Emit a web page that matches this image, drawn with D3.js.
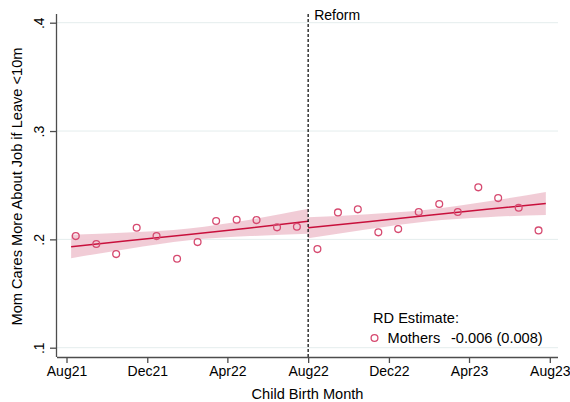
<!DOCTYPE html>
<html>
<head>
<meta charset="utf-8">
<script src="https://cdn.jsdelivr.net/npm/d3@7/dist/d3.min.js"></script>
<style>
  html, body { margin: 0; padding: 0; background: #fff; }
  svg { display: block; font-family: "Liberation Sans", Arial, Helvetica, sans-serif; }
</style>
</head>
<body>
<svg id="chart" width="570" height="402"></svg>
<script>
// Monthly means: share of mothers who care more about their job if leave < 10 months
// Points sit at mid-month (15th), Aug 2021 .. Jul 2023
const monthStarts = [
  "2021-08","2021-09","2021-10","2021-11","2021-12","2022-01","2022-02","2022-03",
  "2022-04","2022-05","2022-06","2022-07","2022-08","2022-09","2022-10","2022-11",
  "2022-12","2023-01","2023-02","2023-03","2023-04","2023-05","2023-06","2023-07"
];
const monthMeans = [
  0.2030, 0.1957, 0.1864, 0.2107, 0.2030, 0.1821, 0.1975, 0.2169,
  0.2181, 0.2178, 0.2111, 0.2116, 0.1910, 0.2249, 0.2277, 0.2065,
  0.2095, 0.2252, 0.2326, 0.2252, 0.2480, 0.2381, 0.2292, 0.2083
];

// Linear fit with 95% CI, before the reform
const preFitDates = ["2021-08-08","2021-11-01","2022-02-02","2022-05-05","2022-08-01"];
const preFitValue = [0.1932, 0.1988, 0.2046, 0.2106, 0.2167];
const preFitLow   = [0.1826, 0.1912, 0.1991, 0.2030, 0.2052];
const preFitHigh  = [0.2042, 0.2064, 0.2101, 0.2182, 0.2282];

// Linear fit with 95% CI, after the reform
const postFitDates = ["2022-08-01","2022-10-30","2023-01-27","2023-04-28","2023-07-26"];
const postFitValue = [0.2107, 0.2163, 0.2220, 0.2277, 0.2332];
const postFitLow   = [0.2010, 0.2094, 0.2166, 0.2205, 0.2226];
const postFitHigh  = [0.2204, 0.2232, 0.2274, 0.2349, 0.2438];

const reformDate = "2022-08-01";
const reformLabel = "Reform";

const xTickDates = ["2021-08-01","2021-12-01","2022-04-01","2022-08-01","2022-12-01","2023-04-01","2023-08-01"];
const xTickLabels = ["Aug21","Dec21","Apr22","Aug22","Dec22","Apr23","Aug23"];
const yTicks = [0.1, 0.2, 0.3, 0.4];
const yTickLabels = [".1", ".2", ".3", ".4"];

const xTitle = "Child Birth Month";
const yTitle = "Mom Cares More About Job if Leave <10m";

const legendTitle = "RD Estimate:";
const legendSeries = "Mothers";
const rdEstimate = -0.006;
const rdStdErr = 0.008;

// ---- drawing ----
const parse = d3.utcParse("%Y-%m-%d");
const svg = d3.select("#chart");

const plotLeft = 57, plotRight = 558, plotTop = 14, plotBottom = 357;

const x = d3.scaleUtc()
  .domain([parse("2021-08-01"), parse("2023-08-01")])
  .range([66.5, 549.8]);
const y = d3.scaleLinear()
  .domain([0.1, 0.4])
  .range([347.7, 22.7]);

const markerColor = "#d64a70";
const lineColor = "#c8103c";
const bandColor = "#f0c6d1";
const axisColor = "#4d4d4d";
const gridColor = "#e4eded";
const titleSize = 14.6;

// grid lines
svg.append("g").selectAll("line").data(yTicks).join("line")
  .attr("x1", plotLeft).attr("x2", plotRight)
  .attr("y1", d => y(d)).attr("y2", d => y(d))
  .attr("stroke", gridColor).attr("stroke-width", 1);

// confidence bands and fit lines
function drawFit(dates, mid, lo, hi) {
  const rows = dates.map((d, i) => ({ t: parse(d), m: mid[i], lo: lo[i], hi: hi[i] }));
  svg.append("path").datum(rows)
    .attr("d", d3.area().curve(d3.curveMonotoneX)
      .x(d => x(d.t)).y0(d => y(d.lo)).y1(d => y(d.hi)))
    .attr("fill", bandColor).attr("fill-opacity", 0.9);
  svg.append("path").datum(rows)
    .attr("d", d3.line().x(d => x(d.t)).y(d => y(d.m)))
    .attr("fill", "none").attr("stroke", lineColor).attr("stroke-width", 1.5);
}
drawFit(preFitDates, preFitValue, preFitLow, preFitHigh);
drawFit(postFitDates, postFitValue, postFitLow, postFitHigh);

// monthly means as hollow circles
const points = monthStarts.map((m, i) => ({ t: parse(m + "-15"), v: monthMeans[i] }));
svg.append("g").selectAll("circle").data(points).join("circle")
  .attr("cx", d => x(d.t)).attr("cy", d => y(d.v)).attr("r", 3.4)
  .attr("fill", "none").attr("stroke", markerColor).attr("stroke-width", 1.3);

// reform cutoff
const rx = x(parse(reformDate));
svg.append("line")
  .attr("x1", rx).attr("x2", rx).attr("y1", plotTop).attr("y2", plotBottom)
  .attr("stroke", "#000").attr("stroke-width", 1.2).attr("stroke-dasharray", "3,2");
svg.append("text").attr("x", rx + 6).attr("y", 20)
  .attr("font-size", 14).attr("fill", "#000").text(reformLabel);

// x axis
const xAxis = d3.axisBottom(x)
  .tickValues(xTickDates.map(parse))
  .tickFormat((d, i) => xTickLabels[i])
  .tickSize(6).tickSizeOuter(0).tickPadding(3);
const gx = svg.append("g").attr("transform", `translate(0,${plotBottom})`).call(xAxis);
gx.select(".domain").attr("d", `M${plotLeft},0.5H${plotRight}`)
  .attr("stroke", axisColor).attr("stroke-width", 1.3);
gx.selectAll(".tick line").attr("stroke", axisColor).attr("stroke-width", 1.3);
gx.selectAll(".tick text").attr("font-size", 14).attr("fill", "#000")
  .attr("font-family", "\"Liberation Sans\", Arial, sans-serif");

// y axis
const yAxis = d3.axisLeft(y)
  .tickValues(yTicks)
  .tickFormat((d, i) => yTickLabels[i])
  .tickSize(7).tickSizeOuter(0);
const gy = svg.append("g").attr("transform", `translate(${plotLeft},0)`).call(yAxis);
gy.select(".domain").attr("d", `M-0.5,${plotTop}V${plotBottom}`)
  .attr("stroke", axisColor).attr("stroke-width", 1.3);
gy.selectAll(".tick line").attr("stroke", axisColor).attr("stroke-width", 1.3);
gy.selectAll(".tick text")
  .attr("x", null).attr("dy", null)
  .attr("font-size", 14).attr("fill", "#000")
  .attr("font-family", "\"Liberation Sans\", Arial, sans-serif")
  .attr("text-anchor", "middle")
  .attr("transform", "translate(-13.5,0) rotate(-90)");

// axis titles
svg.append("text").attr("x", 307.5).attr("y", 399)
  .attr("text-anchor", "middle").attr("font-size", titleSize).attr("fill", "#000")
  .text(xTitle);
svg.append("text")
  .attr("transform", `translate(21.5,186.5) rotate(-90)`)
  .attr("text-anchor", "middle").attr("font-size", titleSize).attr("fill", "#000")
  .text(yTitle);

// legend
const fmt = v => (v < 0 ? "-" : "") + Math.abs(v).toFixed(3);
svg.append("text").attr("x", 373).attr("y", 323)
  .attr("font-size", titleSize).attr("fill", "#000").text(legendTitle);
svg.append("circle").attr("cx", 374.5).attr("cy", 338).attr("r", 3.4)
  .attr("fill", "none").attr("stroke", markerColor).attr("stroke-width", 1.3);
svg.append("text").attr("x", 387.5).attr("y", 343)
  .attr("font-size", titleSize).attr("fill", "#000").text(legendSeries);
svg.append("text").attr("x", 451).attr("y", 343)
  .attr("font-size", titleSize).attr("fill", "#000")
  .text(`${fmt(rdEstimate)} (${fmt(rdStdErr)})`);
</script>
</body>
</html>
